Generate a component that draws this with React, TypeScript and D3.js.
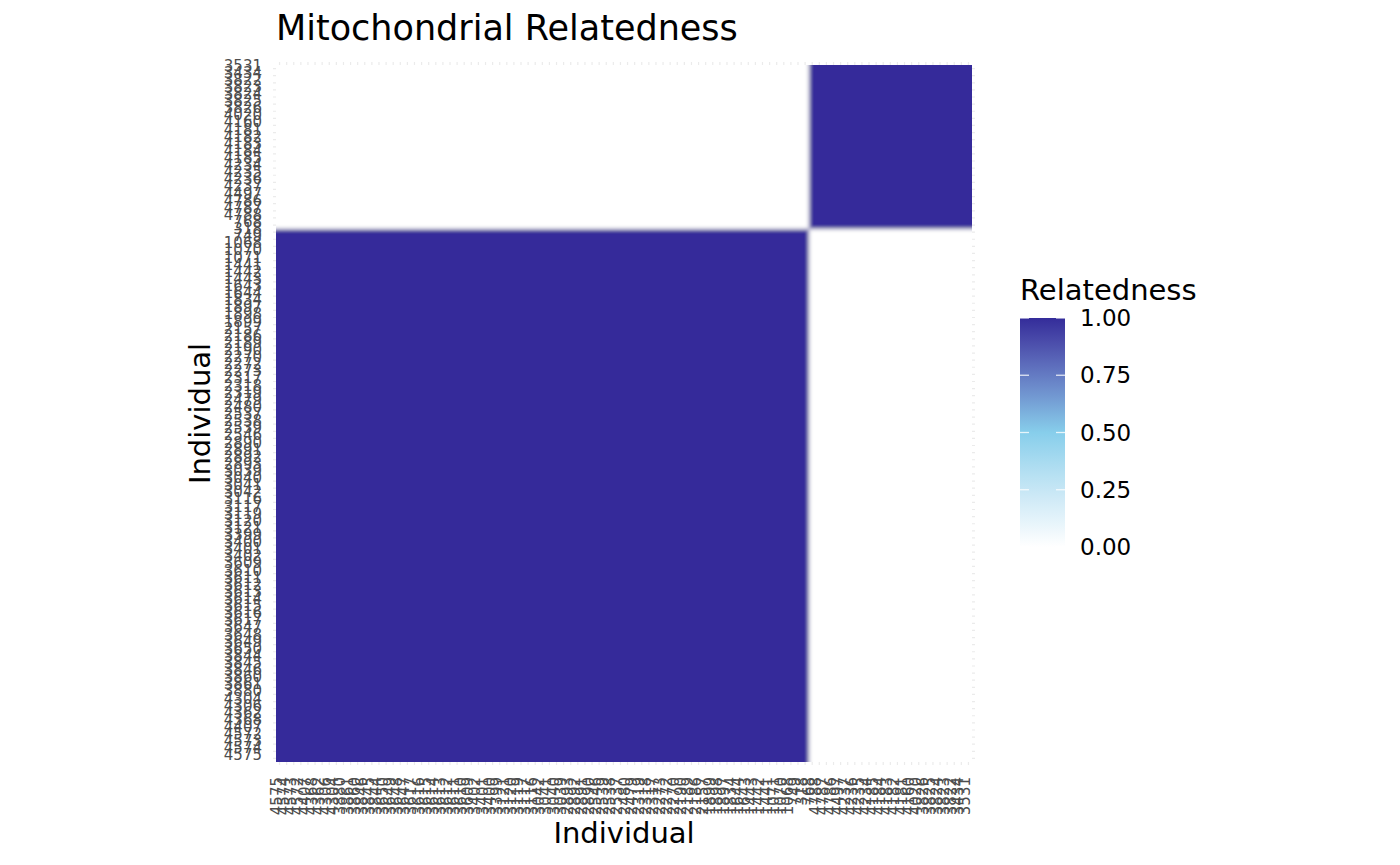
import { useEffect, useRef } from "react";
import * as d3 from "d3";

// maternal line A (top block on the y axis)
const lineageA = [
  "3531", "3434", "3822", "3823", "3824", "3825", "3826", "4020", "4160",
  "4181", "4182", "4183", "4184", "4185", "4234", "4235", "4236", "4237", "4497",
  "4786", "4787", "4788", "768",
];

// maternal line B
const lineageB = [
  "318", "749", "1068", "1070", "1071", "1441", "1442", "1443", "1643", "1644",
  "1834", "1897", "1898", "1899", "2157", "2186", "2189", "2190", "2270",
  "2272", "2273", "2317", "2318", "2319", "2479", "2480", "2537", "2538", "2539",
  "2546", "2890", "2891", "2892", "2893", "3039", "3040", "3041", "3042", "3116",
  "3117", "3119", "3120", "3121", "3399", "3400", "3401", "3402", "3609", "3610",
  "3611", "3612", "3613", "3614", "3615", "3616", "3617", "3647", "3648", "3649",
  "3650", "3844", "3845", "3846", "3860", "3861", "3880", "4304", "4306", "4362",
  "4368", "4407", "4572", "4573", "4574", "4575",
];

const legendTicks = [0, 0.25, 0.5, 0.75, 1];

export default function App() {
  const svgRef = useRef<SVGSVGElement>(null);

  useEffect(() => {
    const svg = d3.select(svgRef.current);
    svg.selectAll("*").remove();

    const font = "DejaVu Sans";
    const yOrder = [...lineageA, ...lineageB];
    const xOrder = [...yOrder].reverse();
    const lineOf = new Map<string, string>();
    lineageA.forEach((d) => lineOf.set(d, "A"));
    lineageB.forEach((d) => lineOf.set(d, "B"));

    const cells: { x: string; y: string; v: number }[] = [];
    yOrder.forEach((y) =>
      xOrder.forEach((x) => cells.push({ x, y, v: lineOf.get(x) === lineOf.get(y) ? 1 : 0 }))
    );

    const x0 = 276, x1 = 972, y0 = 65, y1 = 762;
    const x = d3.scaleBand<string>().domain(xOrder).range([x0, x1]).padding(0);
    const y = d3.scaleBand<string>().domain(yOrder).range([y0, y1]).padding(0);

    const color = d3.scaleLinear<string>()
      .domain([0, 0.5, 1])
      .range(["#ffffff", "#87ceeb", "#342c9a"])
      .interpolate(d3.interpolateLab);

    const defs = svg.append("defs");
    defs.append("clipPath").attr("id", "panelClip")
      .append("rect").attr("x", x0).attr("y", y0).attr("width", x1 - x0).attr("height", y1 - y0);
    defs.append("filter").attr("id", "smooth")
      .attr("filterUnits", "userSpaceOnUse")
      .attr("x", x0 - 20).attr("y", y0 - 20)
      .attr("width", x1 - x0 + 40).attr("height", y1 - y0 + 40)
      .append("feGaussianBlur").attr("stdDeviation", 2.3);

    // grid
    const grid = svg.append("g").attr("stroke", "#ebebeb").attr("stroke-width", 1.2);
    grid.selectAll("line.v").data(xOrder).join("line")
      .attr("x1", (d) => x(d)! + x.bandwidth() / 2).attr("x2", (d) => x(d)! + x.bandwidth() / 2)
      .attr("y1", y0 - 3).attr("y2", y1 + 3);
    grid.selectAll("line.h").data(yOrder).join("line")
      .attr("y1", (d) => y(d)! + y.bandwidth() / 2).attr("y2", (d) => y(d)! + y.bandwidth() / 2)
      .attr("x1", x0 - 3).attr("x2", x1 + 3);

    // raster
    const bw = x.bandwidth(), bh = y.bandwidth();
    const ext = 10;
    const first = (arr: string[], d: string) => arr[0] === d;
    const last = (arr: string[], d: string) => arr[arr.length - 1] === d;
    svg.append("g").attr("clip-path", "url(#panelClip)")
      .append("g").attr("filter", "url(#smooth)")
      .selectAll("rect").data(cells).join("rect")
      .attr("shape-rendering", "crispEdges")
      .attr("x", (d) => x(d.x)! - (first(xOrder, d.x) ? ext : 0))
      .attr("y", (d) => y(d.y)! - (first(yOrder, d.y) ? ext : 0))
      .attr("width", (d) => bw + 1 + (first(xOrder, d.x) || last(xOrder, d.x) ? ext : 0))
      .attr("height", (d) => bh + 1 + (first(yOrder, d.y) || last(yOrder, d.y) ? ext : 0))
      .attr("fill", (d) => color(d.v));

    // axis labels
    svg.append("g").selectAll("text").data(yOrder).join("text")
      .attr("x", 262)
      .attr("y", (d) => y(d)! + bh / 2 + 2)
      .attr("text-anchor", "end")
      .attr("font-family", font).attr("font-size", 15).attr("fill", "#4d4d4d")
      .text((d) => d);

    svg.append("g").selectAll("text").data(xOrder).join("text")
      .attr("transform", (d) => `translate(${x(d)! + bw / 2 + 2},777) rotate(-90)`)
      .attr("text-anchor", "end")
      .attr("font-family", font).attr("font-size", 15).attr("fill", "#4d4d4d")
      .text((d) => d);

    svg.append("text")
      .attr("x", 276).attr("y", 40)
      .attr("font-family", font).attr("font-size", 35).attr("fill", "#000")
      .text("Mitochondrial Relatedness");

    svg.append("text")
      .attr("x", (x0 + x1) / 2).attr("y", 843)
      .attr("text-anchor", "middle")
      .attr("font-family", font).attr("font-size", 29).attr("fill", "#000")
      .text("Individual");

    svg.append("text")
      .attr("transform", `translate(210,${(y0 + y1) / 2}) rotate(-90)`)
      .attr("text-anchor", "middle")
      .attr("font-family", font).attr("font-size", 29).attr("fill", "#000")
      .text("Individual");

    // legend
    const lx = 1020, lw = 45;
    const ly = d3.scaleLinear().domain([0, 1]).range([547, 318]);
    const grad = defs.append("linearGradient").attr("id", "barGrad")
      .attr("x1", 0).attr("y1", 1).attr("x2", 0).attr("y2", 0);
    d3.range(0, 1.0001, 0.05).forEach((t) =>
      grad.append("stop").attr("offset", t).attr("stop-color", color(t))
    );
    const legend = svg.append("g");
    legend.append("text")
      .attr("x", lx).attr("y", 300)
      .attr("font-family", font).attr("font-size", 29).attr("fill", "#000")
      .text("Relatedness");
    legend.append("rect")
      .attr("x", lx).attr("y", ly(1)).attr("width", lw).attr("height", ly(0) - ly(1))
      .attr("fill", "url(#barGrad)");
    const tk = legend.selectAll("g.tick").data(legendTicks).join("g");
    tk.append("line")
      .attr("x1", lx).attr("x2", lx + 9)
      .attr("y1", (d) => ly(d)).attr("y2", (d) => ly(d))
      .attr("stroke", "#ffffff").attr("stroke-opacity", 0.8).attr("stroke-width", 1.3);
    tk.append("line")
      .attr("x1", lx + lw - 9).attr("x2", lx + lw)
      .attr("y1", (d) => ly(d)).attr("y2", (d) => ly(d))
      .attr("stroke", "#ffffff").attr("stroke-opacity", 0.8).attr("stroke-width", 1.3);
    tk.append("text")
      .attr("x", 1080).attr("y", (d) => ly(d) + 8)
      .attr("font-family", font).attr("font-size", 23).attr("fill", "#000")
      .text((d) => d3.format(".2f")(d));
  }, []);

  return <svg ref={svgRef} width={1384} height={865} style={{ display: "block", margin: "-8px 0 0 -8px" }} />;
}
